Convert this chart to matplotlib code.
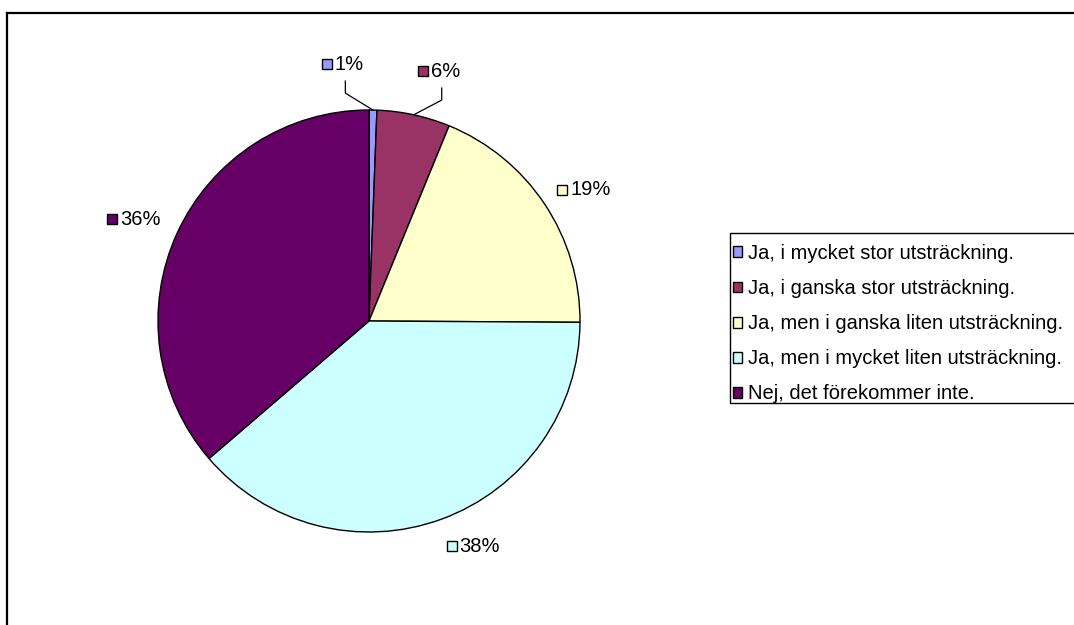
import numpy as np
import matplotlib
matplotlib.use('Agg')
import matplotlib.pyplot as plt
from matplotlib.patches import Patch, Rectangle
from matplotlib.lines import Line2D

plt.rcParams['font.family'] = ['Liberation Sans', 'DejaVu Sans']

# data
categories = ['Ja, i mycket stor utsträckning.',
              'Ja, i ganska stor utsträckning.',
              'Ja, men i ganska liten utsträckning.',
              'Ja, men i mycket liten utsträckning.',
              'Nej, det förekommer inte.']
values = [0.6, 5.6, 18.9, 38.6, 36.3]
pct_labels = ['1%', '6%', '19%', '38%', '36%']
colors = ['#9999FF', '#993366', '#FFFFCC', '#CCFFFF', '#660066']

W, H = 1074, 625
fig = plt.figure(figsize=(W / 100, H / 100), dpi=100)

# pie centre / radius in pixels
cx, cy, R = 369, 321, 211
ax = fig.add_axes([(cx - R) / W, (H - cy - R) / H, 2 * R / W, 2 * R / H])

wedges, _ = ax.pie(values, colors=colors, startangle=90, counterclock=False,
                   radius=1.0, wedgeprops=dict(edgecolor='black', linewidth=1.0))
ax.set_xlim(-1, 1)
ax.set_ylim(-1, 1)
ax.set_aspect('equal')
ax.axis('off')
for w in wedges:
    w.set_clip_on(False)

# label placement (square marker position): angle nudge (deg), distance
nudge = [10.4, 0, 0.5, 0, 3]
dist = [1.234, 1.212, 1.106, 1.137, 1.308]
leader = [True, True, False, False, False]
px = 1.0 / R

for i, w in enumerate(wedges):
    mid = (w.theta1 + w.theta2) / 2.0
    a = np.radians(mid + nudge[i])
    sx, sy = dist[i] * np.cos(a), dist[i] * np.sin(a)
    ax.plot(sx, sy, marker='s', markersize=7, markerfacecolor=colors[i],
            markeredgecolor='black', markeredgewidth=1.0, clip_on=False)
    ax.text(sx + 8 * px, sy, pct_labels[i], ha='left', va='center',
            fontsize=14.5, clip_on=False)
    if leader[i]:
        m = np.radians(mid)
        ex, ey = np.cos(m), np.sin(m)
        vx = sx + 18.5 * px
        ax.plot([ex, vx, vx], [ey, sy - 29 * px, sy - 17 * px],
                color='black', lw=0.9, clip_on=False)

# outer frame (only top and left visible)
fx0 = 7.5 / W
fy0 = 1 - 12.5 / H
fig.add_artist(Line2D([fx0, 1.0], [fy0, fy0], color='black', lw=1.6,
                      transform=fig.transFigure))
fig.add_artist(Line2D([fx0, fx0], [0, fy0], color='black', lw=1.6,
                      transform=fig.transFigure))

# legend box runs off the right edge, like the reference
fig.add_artist(Rectangle((729.5 / W, 1 - 402.5 / H), 400 / W, 170 / H,
                         transform=fig.transFigure, facecolor='white',
                         edgecolor='black', linewidth=1.0))
handles = [Patch(facecolor=c, edgecolor='black', linewidth=1.0) for c in colors]
leg = fig.legend(handles, categories, loc='upper left',
                 bbox_to_anchor=(725 / W, 1 - 236 / H), fontsize=14.5,
                 frameon=False,
                 handlelength=0.45, handleheight=0.45, handletextpad=0.3,
                 labelspacing=0.8, borderpad=0.4, borderaxespad=0)

fig.savefig('out.png', dpi=100, facecolor='white')
